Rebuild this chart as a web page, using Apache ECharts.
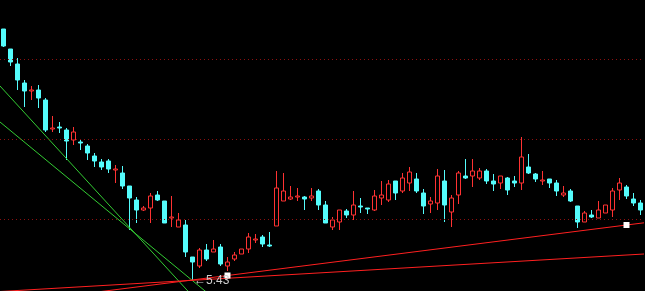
<!DOCTYPE html>
<html><head><meta charset="utf-8">
<script src="https://cdn.jsdelivr.net/npm/echarts@6/dist/echarts.min.js"></script>
<style>html,body{margin:0;padding:0;background:#000;}#c{width:645px;height:291px;}</style>
</head><body><div id="c"></div>
<script>
// Daily candles (price)
const opens  = [7.95,7.75,7.60,7.41,7.33,7.34,7.24,6.95,6.97,6.94,6.84,6.82,6.78,6.68,6.62,6.63,6.54,6.51,6.38,6.24,6.14,6.16,6.29,6.23,6.06,5.97,5.99,5.67,5.58,5.74,5.72,5.77,5.58,5.65,5.70,5.75,5.84,5.87,5.79,5.98,6.23,6.25,6.27,6.27,6.26,6.33,6.19,5.97,6.02,6.13,6.09,6.18,6.16,6.14,6.26,6.24,6.43,6.33,6.41,6.45,6.31,6.20,6.21,6.43,6.12,6.29,6.48,6.48,6.46,6.53,6.43,6.41,6.46,6.43,6.41,6.57,6.50,6.43,6.45,6.41,6.29,6.33,6.18,6.02,6.09,6.06,6.11,6.14,6.34,6.37,6.25,6.21];
const closes = [7.78,7.62,7.44,7.33,7.34,7.26,6.94,6.96,6.96,6.83,6.92,6.81,6.71,6.63,6.57,6.55,6.55,6.38,6.26,6.14,6.16,6.28,6.24,6.01,6.07,6.04,5.72,5.62,5.74,5.65,5.75,5.60,5.62,5.69,5.75,5.87,5.85,5.80,5.78,6.36,6.33,6.27,6.28,6.25,6.28,6.19,6.01,6.04,6.14,6.09,6.19,6.17,6.15,6.28,6.29,6.40,6.31,6.46,6.52,6.33,6.18,6.23,6.48,6.19,6.26,6.51,6.46,6.53,6.53,6.43,6.40,6.48,6.34,6.41,6.67,6.51,6.45,6.44,6.41,6.33,6.31,6.23,6.02,6.11,6.07,6.14,6.19,6.33,6.41,6.28,6.21,6.14];
const lows   = [7.77,7.58,7.34,7.17,7.24,7.16,6.92,6.92,6.91,6.64,6.79,6.74,6.64,6.57,6.54,6.51,6.41,6.35,5.94,6.01,6.13,6.01,6.23,6.01,5.97,5.97,5.67,5.43,5.56,5.63,5.72,5.58,5.53,5.63,5.70,5.71,5.81,5.77,5.77,5.98,6.23,6.24,6.23,6.14,6.23,6.14,6.01,5.94,5.94,6.06,6.04,6.11,6.10,6.13,6.19,6.22,6.24,6.31,6.33,6.31,6.10,6.11,6.14,6.02,5.97,6.20,6.45,6.37,6.44,6.40,6.33,6.35,6.29,6.37,6.34,6.50,6.42,6.39,6.36,6.28,6.27,6.22,5.96,6.02,6.06,6.06,6.11,6.07,6.24,6.25,6.18,6.09];
const highs  = [7.95,7.75,7.66,7.44,7.38,7.39,7.26,7.08,7.02,6.96,6.97,6.85,6.80,6.71,6.65,6.65,6.59,6.58,6.38,6.27,6.18,6.31,6.33,6.23,6.28,6.11,6.04,5.67,5.76,5.80,5.84,5.80,5.67,5.72,5.75,5.91,5.90,5.89,5.92,6.53,6.51,6.38,6.36,6.28,6.36,6.35,6.23,6.07,6.14,6.15,6.33,6.26,6.16,6.34,6.43,6.44,6.43,6.51,6.57,6.51,6.35,6.27,6.55,6.54,6.29,6.53,6.65,6.65,6.56,6.55,6.50,6.48,6.47,6.48,6.87,6.70,6.51,6.53,6.45,6.44,6.38,6.35,6.18,6.13,6.14,6.23,6.19,6.36,6.46,6.39,6.31,6.24];
const categories = opens.map((_, i) => String(i + 1));

// Horizontal reference levels (dotted)
const gridLevels = [7.65, 6.85, 6.05];
// Lowest point marker
const lowIndex = 27;
const lowValue = 5.43;
// Drawn trend lines: [index, price]
const greenLineA = [[-0.5, 7.02], [34, 5.03]];
const greenLineB = [[-0.5, 7.38], [30, 5.05]];
const redLine1   = [[-0.5, 5.325], [91.5, 5.70]];
const redLine2   = [[-0.5, 5.197], [32, 5.485], [89, 5.99], [91.5, 6.012]];
const redLine2Anchors = [1, 2];

const candleData = opens.map((o, i) => [o, closes[i], lows[i], highs[i]]);

const chart = echarts.init(document.getElementById('c'), null, {renderer: 'canvas'});
chart.setOption({
  animation: false,
  backgroundColor: '#000000',
  grid: {left: 0, right: 1, top: 0, bottom: 0},
  xAxis: [
    {type: 'category', data: categories, boundaryGap: true, show: false},
    {type: 'value', min: -0.5, max: 91.5, show: false}
  ],
  yAxis: {type: 'value', min: 5.33, max: 8.24, show: false, splitLine: {show: false}},
  series: [
    {
      type: 'candlestick',
      xAxisIndex: 0,
      data: candleData,
      barWidth: 4,
      itemStyle: {
        color: '#000000', color0: '#54FCFC',
        borderColor: '#FF3232', borderColor0: '#54FCFC', borderWidth: 1
      },
      markLine: {
        silent: true, symbol: 'none', label: {show: false},
        lineStyle: {color: '#8c1010', type: [1, 3], width: 1},
        data: gridLevels.map(v => ({yAxis: v}))
      },
      markPoint: {
        silent: true,
        symbol: 'circle', symbolSize: 1,
        itemStyle: {color: 'rgba(0,0,0,0)'},
        label: {show: true, position: 'right', distance: 1, formatter: '←' + lowValue.toFixed(2),
                color: '#cfcfcf', fontSize: 12, fontFamily: 'Liberation Sans'},
        data: [{coord: [lowIndex, lowValue]}]
      }
    },
    {type: 'line', xAxisIndex: 1, data: greenLineA, symbol: 'none', lineStyle: {color: '#33cc33', width: 1}, silent: true},
    {type: 'line', xAxisIndex: 1, data: greenLineB, symbol: 'none', lineStyle: {color: '#33cc33', width: 1}, silent: true},
    {type: 'line', xAxisIndex: 1, data: redLine1, symbol: 'none', lineStyle: {color: '#ff2020', width: 1}, silent: true},
    {type: 'line', xAxisIndex: 1,
      data: redLine2.map((p, i) => redLine2Anchors.includes(i)
        ? {value: p, symbol: 'rect', symbolSize: 6, itemStyle: {color: '#ffffff'}}
        : {value: p, symbol: 'none'}),
      showAllSymbol: true,
      lineStyle: {color: '#ff2020', width: 1}, silent: true, z: 3}
  ]
});
</script></body></html>
